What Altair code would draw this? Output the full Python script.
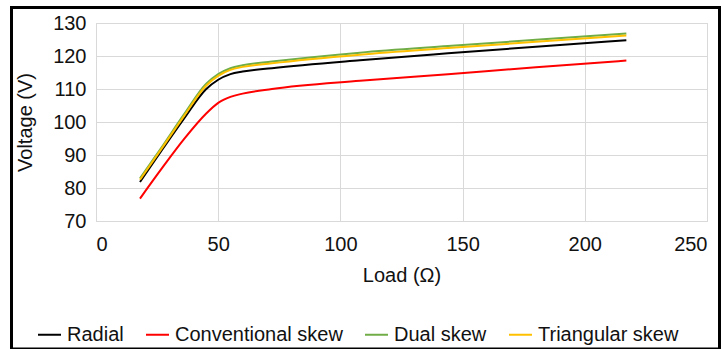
import altair as alt
import pandas as pd

load = [18, 27, 36, 45, 50, 55, 60, 72, 108, 144, 180, 217]
radial = [81.8, 91.5, 101.0, 109.9, 112.8, 114.5, 115.3, 116.3, 118.7, 120.8, 122.8, 124.8]
conventional = [76.8, 86.0, 94.8, 102.5, 105.8, 107.6, 108.6, 110.0, 112.5, 114.5, 116.6, 118.6]
dual = [82.9, 92.5, 102.3, 111.5, 114.5, 116.3, 117.2, 118.3, 121.0, 123.0, 124.9, 126.8]
triangular = [82.5, 92.1, 101.8, 111.0, 114.0, 115.8, 116.7, 117.8, 120.4, 122.4, 124.3, 126.2]

series_names = ["Radial", "Conventional skew", "Dual skew", "Triangular skew"]
series_colors = ["#000000", "#ff0000", "#70ad47", "#ffc000"]
x_ticks = [0, 50, 100, 150, 200, 250]
y_ticks = [70, 80, 90, 100, 110, 120, 130]

rows = []
for name, vals in zip(series_names, [radial, conventional, dual, triangular]):
    for i, (x, v) in enumerate(zip(load, vals)):
        rows.append({"Load": x, "Voltage": v, "Series": name, "order": i})
df = pd.DataFrame(rows)

FONT = "Liberation Sans"
FS = 20

lines = alt.Chart(df).mark_line(strokeWidth=2, interpolate="monotone").encode(
    x=alt.X("Load:Q", scale=alt.Scale(domain=[0, 250], nice=False),
            axis=alt.Axis(title="Load (Ω)", values=x_ticks, grid=True, ticks=False,
                          domain=True, domainColor="#d9d9d9", labelPadding=13,
                          titlePadding=11)),
    y=alt.Y("Voltage:Q", scale=alt.Scale(domain=[70, 130], nice=False, zero=False),
            axis=alt.Axis(title="Voltage (V)", values=y_ticks, grid=True, ticks=False,
                          domain=False, labelPadding=10, titlePadding=17)),
    color=alt.Color("Series:N", scale=alt.Scale(domain=series_names, range=series_colors),
                    sort=series_names,
                    legend=alt.Legend(title=None, orient="none", legendX=-59, legendY=299,
                                      direction="horizontal", symbolType="stroke",
                                      symbolSize=529, symbolStrokeWidth=2,
                                      labelOffset=5, columnPadding=18, labelLimit=400,
                                      labelFont=FONT, labelFontSize=FS,
                                      labelColor="#111111")),
    order="order:Q",
)

frame = alt.Chart(pd.DataFrame({"a": [0]})).mark_rect(
    fill=None, stroke="#000000", strokeWidth=3
).encode(
    x=alt.value(-84.5), x2=alt.value(623.5), y=alt.value(-15.5), y2=alt.value(326)
)

chart = alt.layer(lines, frame).properties(
    width=611, height=198,
    autosize=alt.AutoSizeParams(type="none"),
    padding={"left": 96, "top": 23, "right": 17, "bottom": 128},
    background="white",
).configure_view(stroke="#d9d9d9", strokeWidth=1).configure_axis(
    labelFont=FONT, labelFontSize=FS, labelColor="#111111",
    titleFont=FONT, titleFontSize=FS, titleFontWeight="normal", titleColor="#111111",
    gridColor="#d9d9d9", gridWidth=1,
)

chart.save("out.html", embed_options={"renderer": "svg", "actions": False})
